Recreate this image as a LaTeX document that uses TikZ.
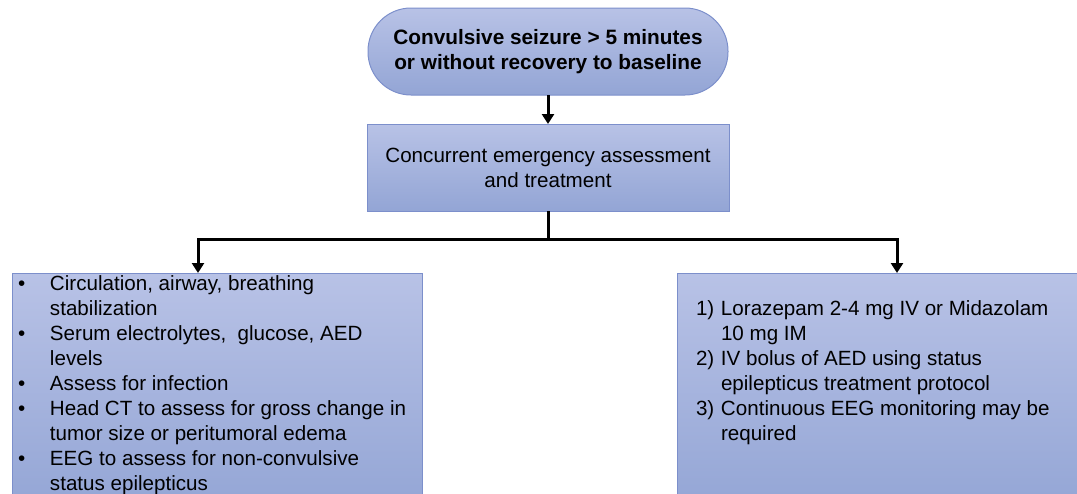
\documentclass[tikz,border=0pt]{standalone}
\usepackage{fontspec}
\setmainfont{Liberation Sans}
\usetikzlibrary{arrows.meta,positioning}

\definecolor{boxtop}{RGB}{184,194,230}
\definecolor{boxbot}{RGB}{147,165,213}
\definecolor{boxedge}{RGB}{124,143,203}

\begin{document}
\begin{tikzpicture}[x=1pt, y=-1pt,
  every node/.style={outer sep=0pt, font=\fontsize{20.6}{25}\selectfont},
  panel/.style={draw=boxedge, line width=1pt, top color=boxtop, bottom color=boxbot, inner sep=0pt},
  words/.style={inner sep=0pt, anchor=north west, align=left},
  link/.style={line width=3pt, black},
  arr/.style={link, -{Triangle[width=12pt,length=10pt]}}]
\useasboundingbox (0,0) rectangle (1077,493);
\clip (0,0) rectangle (1077,493);

% top terminator
\node[panel, rounded corners=43pt, minimum width=360pt, minimum height=87pt, align=center, font=\fontsize{20.8}{25}\selectfont\bfseries]
  (seizure) at (548,51.5) {Convulsive seizure > 5 minutes\\or without recovery to baseline};

\node[panel, minimum width=362pt, minimum height=87pt, align=center]
  (assess) at (548,167.5) {Concurrent emergency assessment\\and treatment};

% two lower boxes (run off the page)
\node[panel, anchor=north west, minimum width=410pt, minimum height=240pt] (care) at (12,273) {};
\node[panel, anchor=north west, minimum width=420pt, minimum height=240pt] (drugs) at (677,273) {};

\node[words] (caretext) at (18,273) {%
\begin{tabular}{@{}p{32pt}@{}l@{}}
\textbullet & Circulation, airway, breathing\\
 & stabilization\\
\textbullet & Serum electrolytes,\ \ glucose, AED\\
 & levels\\
\textbullet & Assess for infection\\
\textbullet & Head CT to assess for gross change in\\
 & tumor size or peritumoral edema\\
\textbullet & EEG to assess for non-convulsive\\
 & status epilepticus
\end{tabular}};

\node[words] (drugtext) at (696,298) {%
\begin{tabular}{@{}p{25pt}@{}l@{}}
1) & Lorazepam 2-4 mg IV or Midazolam\\
 & 10 mg IM\\
2) & IV bolus of AED using status\\
 & epilepticus treatment protocol\\
3) & Continuous EEG monitoring may be\\
 & required
\end{tabular}};

% connectors
\coordinate (split) at (548,239);
\coordinate (careend) at (198,273);
\coordinate (drugend) at (897,273);
\draw[arr] (seizure.south) -- (assess.north);
\draw[link] (assess.south) -- (split);
\draw[arr] (split) -| (careend);
\draw[arr] (split) -| (drugend);
\end{tikzpicture}
\end{document}
